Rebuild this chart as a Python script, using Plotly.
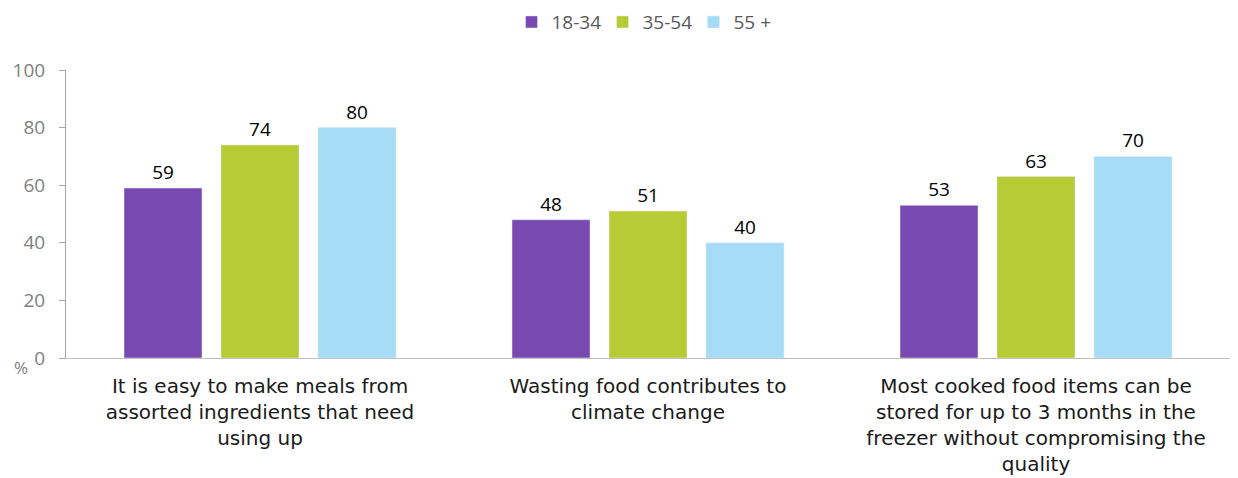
import plotly.graph_objects as go

# Survey agreement by age band (%)
categories = [
    "It is easy to make meals from<br>assorted ingredients that need<br>using up",
    "Wasting food contributes to<br>climate change",
    "Most cooked food items can be<br>stored for up to 3 months in the<br>freezer without compromising the<br>quality",
]
age_groups = ["18-34", "35-54", "55 +"]
values_18_34 = [59, 48, 53]
values_35_54 = [74, 51, 63]
values_55_plus = [80, 40, 70]
y_ticks = [0, 20, 40, 60, 80, 100]

colors = ["#7849B1", "#B7CC34", "#A6DCF5"]
series = [values_18_34, values_35_54, values_55_plus]

fig = go.Figure()
for name, vals, col in zip(age_groups, series, colors):
    fig.add_trace(go.Bar(
        x=categories, y=vals, name=name,
        marker=dict(color=col),
        text=[str(v) for v in vals],
        textposition="outside",
        textfont=dict(size=19, color="#000000"),
        cliponaxis=False,
    ))

fig.add_annotation(
    text="%", xref="paper", yref="paper", x=-0.046, xanchor="left", y=-0.08,
    showarrow=False, font=dict(size=17, color="#808080"),
)

# page body adds an 8px offset, so the figure is 8px smaller than the window
fig.update_layout(
    width=1230, height=470,
    paper_bgcolor="white", plot_bgcolor="white",
    font=dict(family="Open Sans, sans-serif", size=18, color="#808080"),
    margin=dict(l=58, r=8, t=62, b=120, autoexpand=False),
    barmode="group", bargap=0.25, bargroupgap=0.196,
    showlegend=True,
    legend=dict(orientation="h", x=0.5, xanchor="center",
                yref="container", y=0.97, yanchor="middle",
                font=dict(size=19, color="#595959"), itemwidth=30,
                entrywidth=46, entrywidthmode="pixels"),
    yaxis=dict(range=[0, 100], tickvals=y_ticks, showgrid=False, zeroline=False,
               showline=True, linecolor="#A6A6A6", linewidth=1,
               ticks="outside", ticklen=6, tickcolor="#A6A6A6", automargin=False,
               ticklabelstandoff=10,
               tickfont=dict(size=19, color="#808080")),
    xaxis=dict(showline=True, linecolor="#BFBFBF", linewidth=1, ticks="",
               automargin=False, ticklabelstandoff=10,
               tickfont=dict(family="DejaVu Sans, sans-serif", size=20, color="#1a1a1a")),
)

fig.write_html("out.html")
